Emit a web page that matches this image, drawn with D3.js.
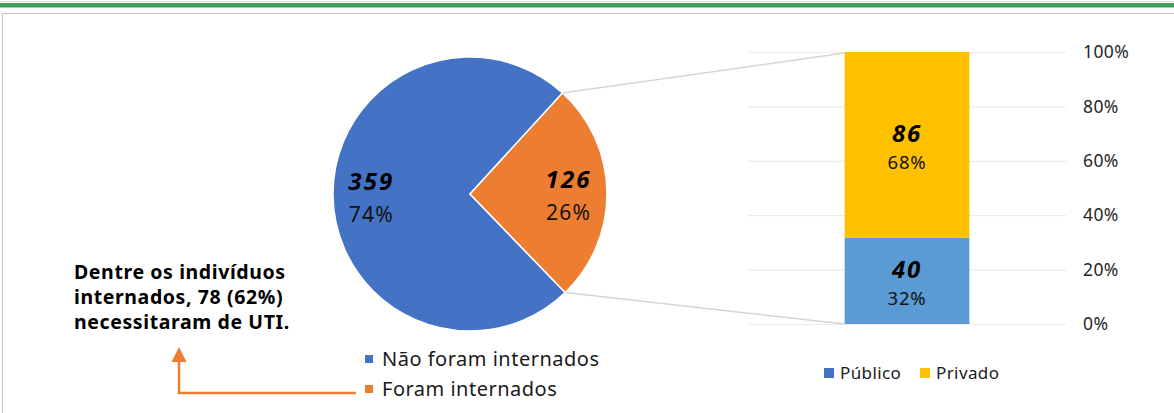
<!DOCTYPE html>
<html>
<head>
<meta charset="utf-8">
<script src="https://cdn.jsdelivr.net/npm/d3@7"></script>
<style>
  body { margin: 0; background: #fff; }
  svg { display: block; font-family: 'Noto Sans', sans-serif; }
</style>
</head>
<body>
<div id="wrapper"></div>
<script>
'use strict';

// data
const pieLabels = ['Não foram internados', 'Foram internados'];
const pieValues = [359, 126];
const pieColors = ['#4472c4', '#ed7d31'];

const barLabels = ['Público', 'Privado'];
const barValues = [40, 86];
const barColors = ['#5b9bd5', '#ffc000'];
const barTicks = [0, 0.2, 0.4, 0.6, 0.8, 1];

const noteLines = ['Dentre os indivíduos', 'internados, 78 (62%)', 'necessitaram de UTI.'];

function drawChart () {
  const width = 1174;
  const height = 413;
  const pct = d3.format('.0%');

  const svg = d3.select('#wrapper')
    .append('svg')
    .attr('width', width)
    .attr('height', height);

  // header band + frame
  svg.append('line')
    .attr('x1', 0).attr('x2', width).attr('y1', 1.5).attr('y2', 1.5)
    .attr('stroke', '#d9d9d9').attr('stroke-width', 1);
  svg.append('rect')
    .attr('x', 0).attr('y', 3).attr('width', width).attr('height', 4.5)
    .attr('fill', '#3d9b5c');
  svg.append('rect')
    .attr('x', 2.5).attr('y', 13.5).attr('width', width + 10).attr('height', height + 10)
    .attr('fill', 'none').attr('stroke', '#c4c4c4').attr('stroke-width', 1);

  // pie
  const pie = {cx: 470, cy: 194, r: 137};
  const total = d3.sum(pieValues);
  const startDeg = 136;
  const pieGen = d3.pie()
    .sort(null)
    .startAngle(startDeg * Math.PI / 180)
    .endAngle(startDeg * Math.PI / 180 + 2 * Math.PI);
  const arcs = pieGen(pieValues);
  const arcGen = d3.arc().innerRadius(0).outerRadius(pie.r);

  const pieG = svg.append('g')
    .attr('transform', `translate(${pie.cx},${pie.cy})`);

  pieG.selectAll('path')
    .data(arcs)
    .join('path')
    .attr('d', arcGen)
    .attr('fill', (d, i) => pieColors[i])
    .attr('stroke', '#fff')
    .attr('stroke-width', 1.5);

  const labelArc = d3.arc().innerRadius(pie.r * 0.72).outerRadius(pie.r * 0.72);
  const pieLabelG = pieG.selectAll('g.lbl')
    .data(arcs)
    .join('g')
    .attr('class', 'lbl')
    .attr('transform', d => {
      const [x, y] = labelArc.centroid(d);
      return `translate(${x},${y})`;
    });
  pieLabelG.append('text')
    .attr('text-anchor', 'middle')
    .attr('y', -5)
    .attr('font-size', 24)
    .attr('font-weight', 'bold')
    .attr('font-style', 'italic')
    .attr('letter-spacing', 2.2)
    .attr('fill', '#000')
    .text(d => d.value);
  pieLabelG.append('text')
    .attr('text-anchor', 'middle')
    .attr('y', 27)
    .attr('font-size', 21)
    .attr('letter-spacing', 1.3)
    .attr('fill', '#111')
    .text(d => pct(d.value / total));

  // stacked bar
  const plot = {left: 748, right: 1066, top: 52, bottom: 324};
  const yScale = d3.scaleLinear()
    .domain([0, 1])
    .range([plot.bottom, plot.top]);
  const xScale = d3.scaleBand()
    .domain(['internados'])
    .range([plot.left, plot.right])
    .paddingInner(0.6)
    .paddingOuter(0.31);

  const gridGen = d3.axisLeft(yScale)
    .tickValues(barTicks)
    .tickSize(-(plot.right - plot.left))
    .tickFormat('');
  const grid = svg.append('g')
    .attr('transform', `translate(${plot.left},0)`)
    .call(gridGen);
  grid.select('.domain').remove();
  grid.selectAll('line').attr('stroke', '#ececec').attr('stroke-width', 1.2);

  const axisGen = d3.axisRight(yScale)
    .tickValues(barTicks)
    .tickSize(0)
    .tickPadding(0)
    .tickFormat(pct);
  const axis = svg.append('g')
    .attr('transform', `translate(1083,0)`)
    .call(axisGen);
  axis.select('.domain').remove();
  axis.selectAll('text')
    .attr('font-family', "'Noto Sans', sans-serif")
    .attr('font-size', 17.5)
    .attr('letter-spacing', 0.4)
    .attr('fill', '#262626');

  const barTotal = d3.sum(barValues);
  const stacked = d3.stack().keys(barLabels)([
    Object.fromEntries(barLabels.map((k, i) => [k, barValues[i] / barTotal]))
  ]);

  const bx = xScale('internados');
  const bw = xScale.bandwidth();

  // connector lines from the pie slice to the bar
  const orange = arcs[1];
  const pt = a => [pie.cx + pie.r * Math.sin(a), pie.cy - pie.r * Math.cos(a)];
  const [tx, ty] = pt(orange.startAngle);
  const [ux, uy] = pt(orange.endAngle);
  svg.append('line')
    .attr('x1', tx).attr('y1', ty)
    .attr('x2', bx).attr('y2', yScale(1) + 1)
    .attr('stroke', '#d6d6d6').attr('stroke-width', 1.5);
  svg.append('line')
    .attr('x1', ux).attr('y1', uy)
    .attr('x2', bx).attr('y2', yScale(0))
    .attr('stroke', '#d6d6d6').attr('stroke-width', 1.5);

  svg.selectAll('rect.seg')
    .data(stacked)
    .join('rect')
    .attr('class', 'seg')
    .attr('x', bx)
    .attr('width', bw)
    .attr('y', d => yScale(d[0][1]))
    .attr('height', d => yScale(d[0][0]) - yScale(d[0][1]))
    .attr('fill', (d, i) => barColors[i]);

  const segLbl = svg.selectAll('g.seglbl')
    .data(stacked)
    .join('g')
    .attr('class', 'seglbl')
    .attr('transform', d => `translate(${bx + bw / 2},${yScale((d[0][0] + d[0][1]) / 2)})`);
  segLbl.append('text')
    .attr('text-anchor', 'middle')
    .attr('y', -3)
    .attr('font-size', 24)
    .attr('font-weight', 'bold')
    .attr('font-style', 'italic')
    .attr('letter-spacing', 1.8)
    .text((d, i) => barValues[i]);
  segLbl.append('text')
    .attr('text-anchor', 'middle')
    .attr('y', 24)
    .attr('font-size', 18.5)
    .attr('letter-spacing', 0.8)
    .attr('fill', '#111')
    .text((d, i) => pct(barValues[i] / barTotal));

  // pie legend
  const pieLegend = svg.selectAll('g.plg')
    .data(pieLabels)
    .join('g')
    .attr('class', 'plg')
    .attr('transform', (d, i) => `translate(365,${355 + i * 30})`);
  pieLegend.append('rect')
    .attr('width', 8).attr('height', 8)
    .attr('fill', (d, i) => pieColors[i]);
  pieLegend.append('text')
    .attr('x', 17).attr('y', 11)
    .attr('font-size', 20)
    .attr('letter-spacing', 0.5)
    .attr('fill', '#1a1a1a')
    .text(d => d);

  // bar legend
  const barLegendX = [824, 920];
  const barLegend = svg.selectAll('g.blg')
    .data(barLabels)
    .join('g')
    .attr('class', 'blg')
    .attr('transform', (d, i) => `translate(${barLegendX[i]},368)`);
  barLegend.append('rect')
    .attr('width', 10).attr('height', 10)
    .attr('fill', (d, i) => i === 0 ? pieColors[0] : barColors[1]);
  barLegend.append('text')
    .attr('x', 16).attr('y', 11)
    .attr('font-size', 17)
    .attr('letter-spacing', 0.4)
    .attr('fill', '#1a1a1a')
    .text(d => d);

  // note + arrow
  svg.append('text')
    .attr('font-size', 19.5)
    .attr('font-weight', 'bold')
    .attr('letter-spacing', 0.6)
    .attr('fill', '#000')
    .selectAll('tspan')
    .data(noteLines)
    .join('tspan')
    .attr('x', 74)
    .attr('y', (d, i) => 279 + i * 25)
    .text(d => d);

  svg.append('path')
    .attr('d', 'M356,393 H179 V360')
    .attr('fill', 'none')
    .attr('stroke', '#ed7d31')
    .attr('stroke-width', 2.5);
  svg.append('path')
    .attr('d', 'M179,347 L186.5,362 L171.5,362 Z')
    .attr('fill', '#ed7d31');
}

drawChart();
</script>
</body>
</html>
